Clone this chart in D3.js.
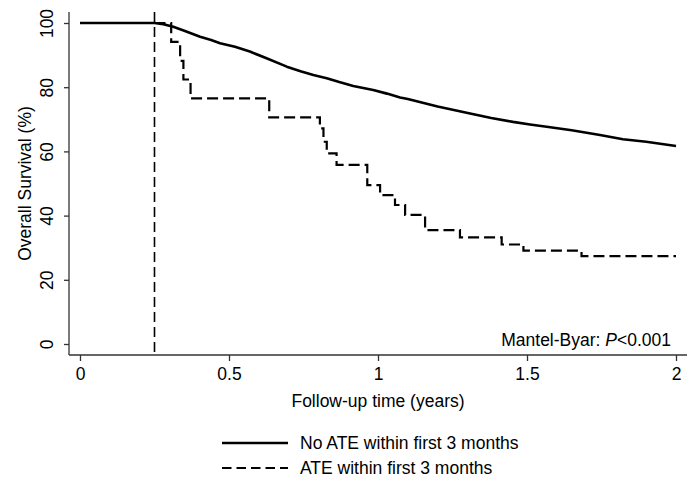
<!DOCTYPE html>
<html>
<head>
<meta charset="utf-8">
<script src="https://cdn.jsdelivr.net/npm/d3@7"></script>
<style>
  html, body { margin: 0; padding: 0; background: #fff; }
  svg { display: block; font-family: "Liberation Sans", Arial, Helvetica, sans-serif; }
</style>
</head>
<body>
<svg id="chart" width="700" height="480"></svg>
<script>
// ---- data ----
const noAteTime = [0, 0.25, 0.28, 0.313, 0.35, 0.403, 0.44, 0.47, 0.52, 0.57, 0.626, 0.694, 0.74, 0.783, 0.828, 0.87, 0.917, 0.984, 1.03, 1.074, 1.1, 1.2, 1.309, 1.38, 1.453, 1.51, 1.566, 1.65, 1.745, 1.822, 1.9, 2.0];
const noAteSurv = [100, 100, 99.6, 98.8, 97.6, 95.7, 94.7, 93.7, 92.6, 91.1, 89.0, 86.4, 85.0, 83.8, 82.8, 81.6, 80.4, 79.1, 78.0, 76.8, 76.3, 74.0, 71.8, 70.4, 69.2, 68.4, 67.7, 66.6, 65.1, 63.8, 63.0, 61.7];
const ateTime = [0.25, 0.306, 0.336, 0.347, 0.371, 0.635, 0.805, 0.817, 0.828, 0.861, 0.964, 1.007, 1.057, 1.091, 1.158, 1.275, 1.415, 1.488, 1.683, 2.0];
const ateSurv = [100, 94.1, 88.2, 82.4, 76.5, 70.6, 67.2, 63.0, 59.4, 55.8, 49.5, 46.4, 43.3, 40.2, 35.5, 33.2, 31.0, 29.1, 27.4, 27.4];
const landmark = 0.25;
const xTicks = [0, 0.5, 1, 1.5, 2];
const yTicks = [0, 20, 40, 60, 80, 100];
const seriesLabels = ["No ATE within first 3 months", "ATE within first 3 months"];
const xTitle = "Follow-up time (years)";
const yTitle = "Overall Survival (%)";

// ---- layout ----
const svg = d3.select("#chart");
const x = d3.scaleLinear().domain([0, 2]).range([80, 676]);
const y = d3.scaleLinear().domain([0, 100]).range([344, 23]);
const axisX0 = 69, axisY0 = 355;
const ink = "#000";
const fs = 17.5;

// axes
const xAxis = d3.axisBottom(x).tickValues(xTicks).tickSize(6).tickFormat(d => d3.format("")(d));
const gx = svg.append("g").attr("transform", `translate(0,${axisY0})`).call(xAxis);
gx.select(".domain").remove();
gx.selectAll(".tick line").attr("stroke", "#333").attr("stroke-width", 1.3);
gx.selectAll(".tick text").attr("font-size", fs).attr("fill", ink)
  .attr("font-family", "Liberation Sans, Arial, sans-serif").attr("dy", null).attr("y", 25);
svg.append("line").attr("x1", axisX0).attr("x2", 687).attr("y1", axisY0).attr("y2", axisY0)
  .attr("stroke", "#333").attr("stroke-width", 1.3);

const yAxis = d3.axisLeft(y).tickValues(yTicks).tickSize(5).tickFormat(d => d);
const gy = svg.append("g").attr("transform", `translate(${axisX0},0)`).call(yAxis);
gy.select(".domain").remove();
gy.selectAll(".tick line").attr("stroke", "#333").attr("stroke-width", 1.3);
gy.selectAll(".tick text").remove();
gy.selectAll(".tick").append("text")
  .attr("transform", "translate(-16,0) rotate(-90)")
  .attr("text-anchor", "middle").attr("font-size", fs).attr("fill", ink)
  .text(d => d);
svg.append("line").attr("x1", axisX0).attr("x2", axisX0).attr("y1", 12).attr("y2", axisY0)
  .attr("stroke", "#333").attr("stroke-width", 1.3);

// titles
svg.append("text").attr("x", 378).attr("y", 407).attr("text-anchor", "middle")
  .attr("font-size", fs).attr("fill", ink).text(xTitle);
svg.append("text").attr("transform", `translate(31,${(y(0)+y(100))/2}) rotate(-90)`)
  .attr("text-anchor", "middle").attr("font-size", fs).attr("fill", ink).text(yTitle);

// landmark line
svg.append("line").attr("x1", x(landmark)).attr("x2", x(landmark))
  .attr("y1", 12).attr("y2", axisY0)
  .attr("stroke", ink).attr("stroke-width", 1.6).attr("stroke-dasharray", "10,5");

// curves
const noAte = noAteTime.map((t, i) => [t, noAteSurv[i]]);
const ate = ateTime.map((t, i) => [t, ateSurv[i]]);
const lineLin = d3.line().x(d => x(d[0])).y(d => y(d[1]));
const lineStep = d3.line().x(d => x(d[0])).y(d => y(d[1])).curve(d3.curveStepAfter);

svg.append("path").datum(ate).attr("d", lineStep)
  .attr("fill", "none").attr("stroke", ink).attr("stroke-width", 2.2)
  .attr("stroke-dasharray", "11,5");
svg.append("path").datum(noAte).attr("d", lineLin)
  .attr("fill", "none").attr("stroke", ink).attr("stroke-width", 2.6)
  .attr("stroke-linejoin", "round");

// annotation
const ann = svg.append("text").attr("x", 671).attr("y", 346).attr("text-anchor", "end")
  .attr("font-size", fs).attr("fill", ink);
ann.append("tspan").text("Mantel-Byar: ");
ann.append("tspan").attr("font-style", "italic").text("P");
ann.append("tspan").text("<0.001");

// legend
const leg = svg.append("g");
const legRows = [
  { label: seriesLabels[0], dash: null, y: 443 },
  { label: seriesLabels[1], dash: "9.5,5", y: 468 }
];
legRows.forEach(r => {
  leg.append("line").attr("x1", 222).attr("x2", 288).attr("y1", r.y).attr("y2", r.y)
    .attr("stroke", ink).attr("stroke-width", r.dash ? 2.2 : 2.6)
    .attr("stroke-dasharray", r.dash);
  leg.append("text").attr("x", 300).attr("y", r.y + 6).attr("font-size", fs)
    .attr("fill", ink).text(r.label);
});
</script>
</body>
</html>
